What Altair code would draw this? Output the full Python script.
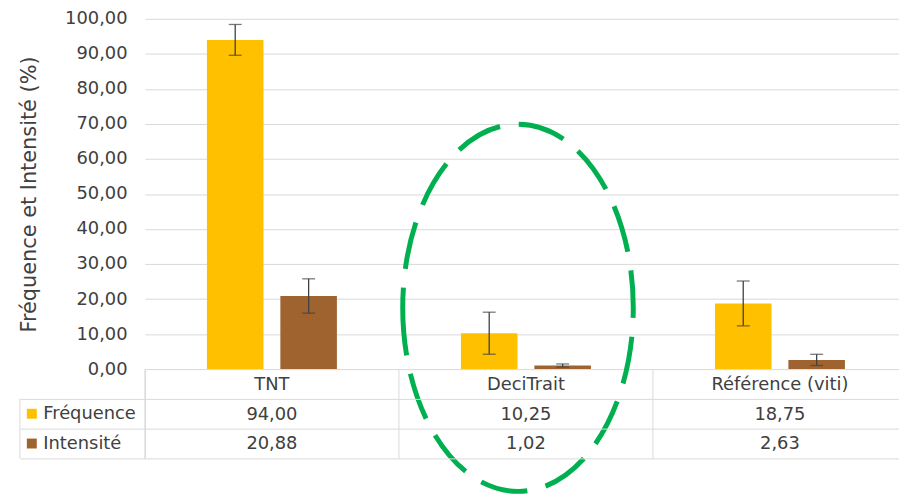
import altair as alt
import pandas as pd

# ---- data ----
categories = ["TNT", "DeciTrait", "Référence (viti)"]
series = ["Fréquence", "Intensité"]
frequence = [94.00, 10.25, 18.75]
intensite = [20.88, 1.02, 2.63]
err_frequence = [4.4, 6.0, 6.4]
err_intensite = [4.9, 0.45, 1.6]
y_ticks = [0, 10, 20, 30, 40, 50, 60, 70, 80, 90, 100]
series_colors = ["#FFC000", "#9E632E"]
y_title = "Fréquence et Intensité (%)"
highlight_category = "DeciTrait"
highlight_center = [17.5]

FONT = "DejaVu Sans"
TXT = "#404040"
GRID = "#D9D9D9"
W = 768          # full category band range (3 x 256); right edge is cropped
H = 353
TABLE_H = 90


def fr(v):
    return f"{v:.2f}".replace(".", ",")


rows = []
for i, c in enumerate(categories):
    rows.append({"cat": c, "series": series[0], "value": frequence[i], "err": err_frequence[i]})
    rows.append({"cat": c, "series": series[1], "value": intensite[i], "err": err_intensite[i]})
df = pd.DataFrame(rows)

color = alt.Color("series:N", scale=alt.Scale(domain=series, range=series_colors), legend=None)
xs = alt.X("cat:N", sort=categories, axis=None,
           scale=alt.Scale(domain=categories, paddingInner=0.4883, paddingOuter=0.2441))
xo = alt.XOffset("series:N", sort=series, scale=alt.Scale(domain=series, paddingInner=0.23, paddingOuter=0))

yaxis = alt.Axis(values=y_ticks,
                 labelExpr="replace(format(datum.value, '.2f'), '.', ',')",
                 labelFontSize=18, labelColor=TXT, labelPadding=18,
                 ticks=False, domain=False, gridColor=GRID,
                 titleFontSize=21, titleFontWeight="normal", titleColor=TXT, titlePadding=25)
yscale = alt.Scale(domain=[0, 100], nice=False)


def Y(field):
    return alt.Y(field, scale=yscale, axis=yaxis, title=y_title)


base = alt.Chart(df).transform_calculate(lo="datum.value - datum.err", hi="datum.value + datum.err")
bars = base.mark_bar().encode(x=xs, xOffset=xo, y=Y("value:Q"), color=color)
err_rule = base.mark_rule(color="#404040", strokeWidth=1.3).encode(
    x=xs, xOffset=xo, y=Y("lo:Q"), y2="hi:Q")
cap_hi = base.mark_tick(color="#404040", thickness=1.3, size=13).encode(x=xs, xOffset=xo, y=Y("hi:Q"))
cap_lo = base.mark_tick(color="#404040", thickness=1.3, size=13).encode(x=xs, xOffset=xo, y=Y("lo:Q"))

ELLIPSE = "M -0.628 0 A 0.628 1 0 1 0 0.628 0 A 0.628 1 0 1 0 -0.628 0 Z"
ann = pd.DataFrame({"cat": [highlight_category], "yc": highlight_center})
ellipse = alt.Chart(ann).mark_point(
    shape=ELLIPSE, size=370 * 370, filled=False, stroke="#00B050", strokeWidth=5,
    strokeDash=[48, 19], opacity=1, xOffset=-8
).encode(x=xs, y=Y("yc:Q"))

top = alt.layer(bars, err_rule, cap_hi, cap_lo, ellipse).properties(width=W, height=H)

# ---- data table below the plot ----
trows = []
for i, c in enumerate(categories):
    trows.append({"cat": c, "row": "header", "label": c})
    trows.append({"cat": c, "row": series[0], "label": fr(frequence[i])})
    trows.append({"cat": c, "row": series[1], "label": fr(intensite[i])})
tdf = pd.DataFrame(trows)

row_domain = ["header"] + series
tscale = alt.Scale(domain=categories, paddingInner=0, paddingOuter=0)
tx = alt.X("cat:N", axis=None, scale=tscale)
ty = alt.Y("row:N", title=None,
           scale=alt.Scale(domain=row_domain, paddingInner=0, paddingOuter=0),
           axis=alt.Axis(values=series, tickBand="extent", tickSize=126, tickColor=GRID,
                         domain=True, domainColor=GRID, grid=True, gridColor=GRID,
                         labelAlign="left", labelPadding=-23, labelFontSize=18, labelColor=TXT,
                         labelBaseline="middle"))

vrules = alt.Chart(pd.DataFrame({"cat": categories})).mark_rule(color=GRID, strokeWidth=1).encode(
    x=alt.X("cat:N", bandPosition=0, axis=None, scale=tscale))
left_border = alt.Chart(pd.DataFrame({"k": [0]})).mark_rule(color=GRID, strokeWidth=1).encode(
    x=alt.value(-126), y=alt.value(30), y2=alt.value(90))
swatches = alt.Chart(pd.DataFrame({"row": series, "series": series})).mark_square(
    size=100, opacity=1).encode(y=ty, x=alt.value(-114), color=color)
texts = alt.Chart(tdf).mark_text(font=FONT, fontSize=18, color=TXT, dy=1).encode(
    x=tx, y=ty, text="label:N")

table = alt.layer(vrules, left_border, swatches, texts).properties(width=W, height=TABLE_H)

chart = alt.vconcat(top, table, spacing=0, bounds="flush").resolve_scale(
    x="independent", y="independent"
).properties(
    padding={"left": 11, "top": 0, "right": -8, "bottom": 0},
    background="white",
).configure_view(stroke=None).configure_axis(
    labelFont=FONT, titleFont=FONT
).configure_text(font=FONT)

chart.save("out.html", embed_options={"renderer": "svg", "actions": False})
